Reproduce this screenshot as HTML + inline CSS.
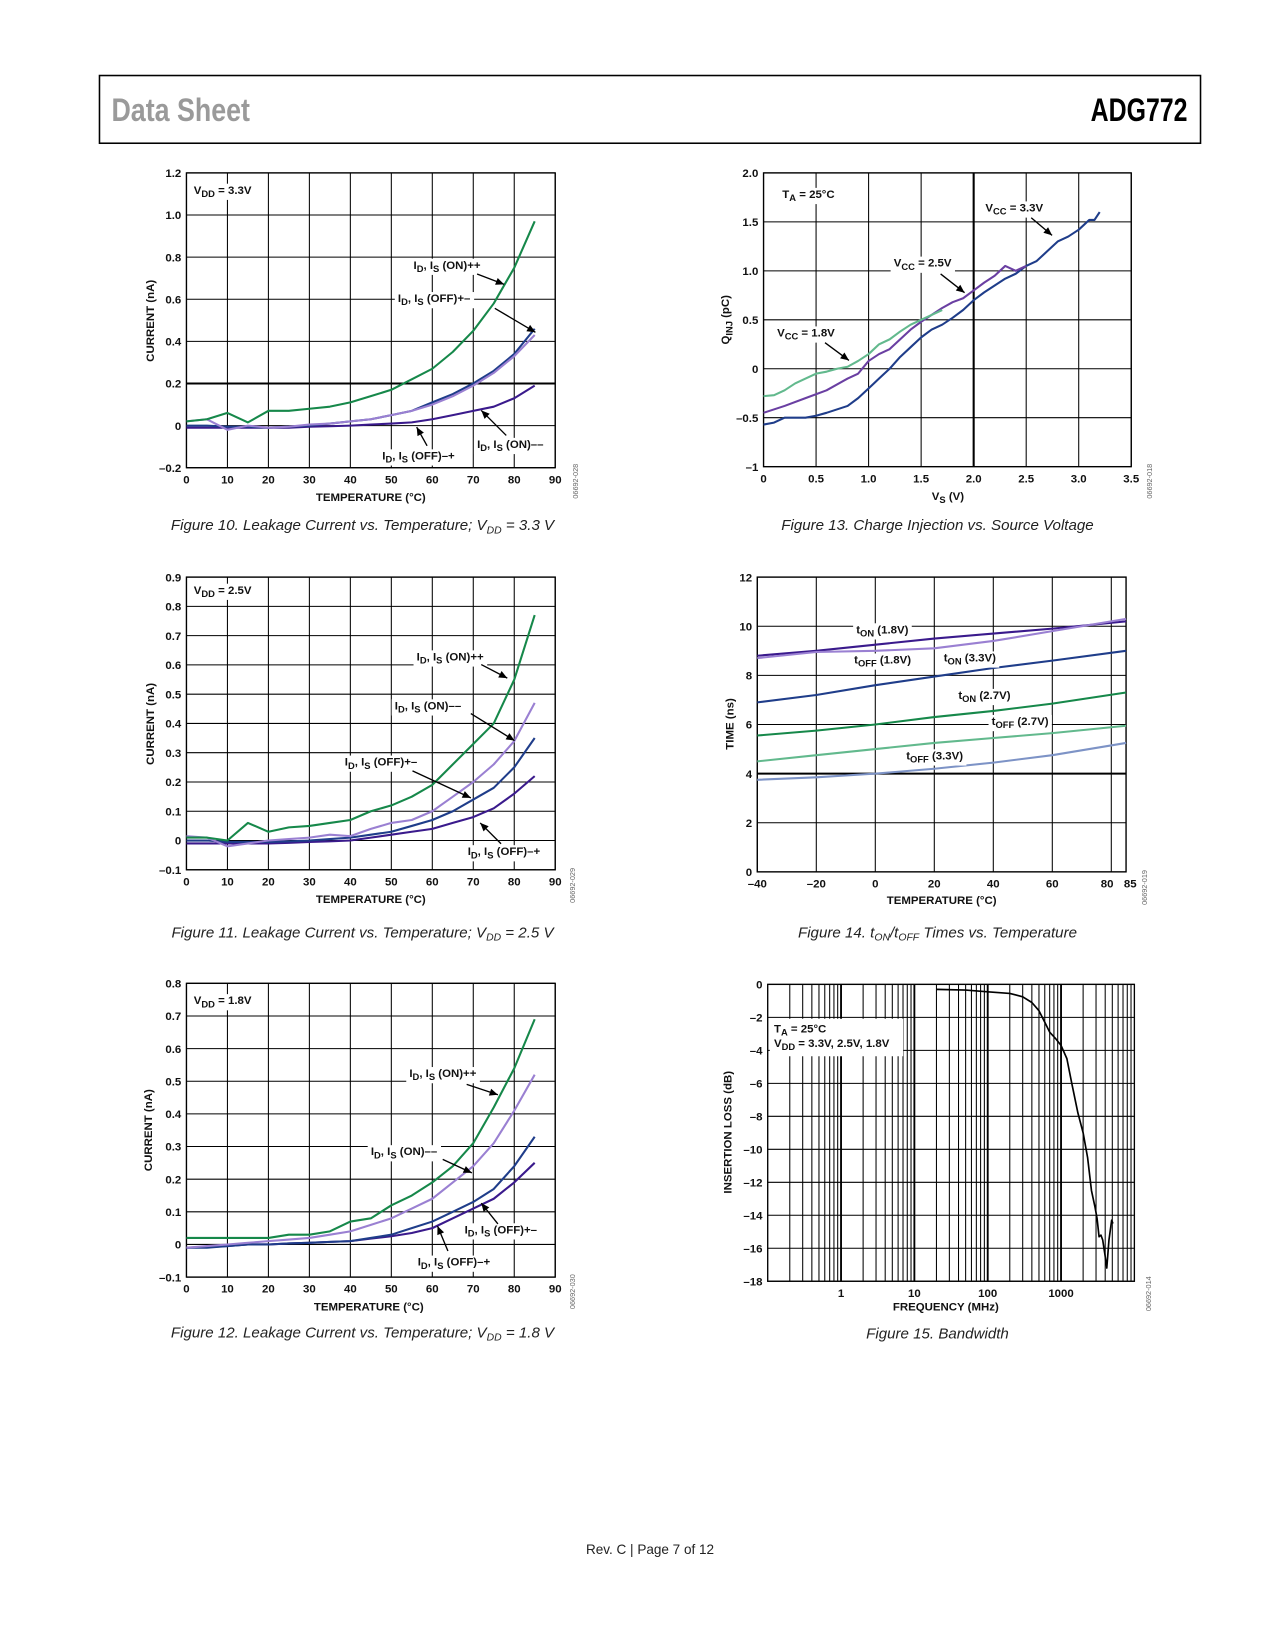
<!DOCTYPE html>
<html><head><meta charset="utf-8"><style>
html,body{margin:0;padding:0;background:#fff;}
svg{display:block;}
text{font-family:"Liberation Sans",sans-serif;}
.t{font-size:11px;font-weight:bold;fill:#111;}
.cap{font-size:14.5px;font-style:italic;fill:#222;}
.id{font-size:7px;fill:#666;}
</style></head><body>
<svg id="page" width="1275" height="1650" viewBox="0 0 1224 1584" xmlns="http://www.w3.org/2000/svg">
<rect x="95.5" y="72.5" width="1057" height="65" fill="none" stroke="#000" stroke-width="1.5"/>
<text x="107" y="116" font-size="31" fill="#9a9a9a" font-weight="bold" textLength="133" lengthAdjust="spacingAndGlyphs">Data Sheet</text>
<text x="1140" y="116" font-size="31" fill="#000" font-weight="bold" text-anchor="end" textLength="93" lengthAdjust="spacingAndGlyphs">ADG772</text>
<text x="624" y="1492" font-size="13" fill="#222" text-anchor="middle">Rev. C | Page 7 of 12</text>
<g id="charts"></g>
</svg>
<script>
// ---------- DATA ----------
const tempX=[0,5,10,15,20,25,30,35,40,45,50,55,60,65,70,75,80,85];
const f10_onpp=[0.02,0.03,0.06,0.015,0.07,0.07,0.08,0.09,0.11,0.14,0.17,0.22,0.27,0.35,0.45,0.58,0.75,0.97];
const f10_offpm=[0.0,0.0,-0.005,-0.005,-0.01,-0.005,0.0,0.01,0.02,0.03,0.05,0.07,0.11,0.15,0.2,0.26,0.34,0.46];
const f10_onmm=[0.02,0.03,-0.02,0.0,-0.01,-0.005,0.005,0.01,0.02,0.03,0.05,0.07,0.1,0.14,0.19,0.25,0.33,0.43];
const f10_offmp=[-0.01,-0.01,-0.01,-0.01,-0.01,-0.01,-0.005,-0.003,0.0,0.005,0.01,0.015,0.03,0.05,0.07,0.09,0.13,0.19];
const f11_onpp=[0.01,0.01,0.0,0.06,0.03,0.045,0.05,0.06,0.07,0.1,0.12,0.15,0.19,0.26,0.33,0.4,0.55,0.77];
const f11_onmm=[0.015,0.01,-0.02,-0.01,0.0,0.005,0.01,0.02,0.015,0.04,0.06,0.07,0.1,0.15,0.2,0.26,0.34,0.47];
const f11_offpm=[0.0,0.0,-0.005,-0.005,-0.005,-0.003,0.0,0.005,0.01,0.02,0.03,0.05,0.07,0.1,0.14,0.18,0.25,0.35];
const f11_offmp=[-0.01,-0.01,-0.01,-0.01,-0.01,-0.008,-0.005,-0.003,0.0,0.01,0.02,0.03,0.04,0.06,0.08,0.11,0.16,0.22];
const f12_onpp=[0.02,0.02,0.02,0.02,0.02,0.03,0.03,0.04,0.07,0.08,0.12,0.15,0.19,0.24,0.31,0.42,0.54,0.69];
const f12_onmm=[-0.01,-0.005,0.0,0.005,0.01,0.015,0.02,0.03,0.04,0.06,0.08,0.11,0.14,0.19,0.24,0.31,0.41,0.52];
const f12_offpm=[-0.01,-0.01,-0.005,0.0,0.0,0.003,0.005,0.008,0.01,0.02,0.03,0.05,0.07,0.1,0.13,0.17,0.24,0.33];
const f12_offmp=[-0.01,-0.008,-0.005,0.0,0.0,0.003,0.005,0.008,0.01,0.018,0.025,0.035,0.05,0.08,0.11,0.14,0.19,0.25];
const vs18=[0,0.1,0.2,0.3,0.4,0.5,0.6,0.7,0.8,0.9,1.0,1.1,1.2,1.3,1.4,1.5,1.6,1.7];
const q18=[-0.28,-0.27,-0.22,-0.15,-0.1,-0.05,-0.03,0.0,0.02,0.08,0.15,0.25,0.3,0.38,0.45,0.5,0.55,0.6];
const vs25=[0,0.2,0.4,0.6,0.8,0.9,1.0,1.1,1.2,1.3,1.4,1.5,1.6,1.7,1.8,1.9,2.0,2.1,2.2,2.3,2.4,2.5];
const q25=[-0.45,-0.38,-0.3,-0.22,-0.1,-0.05,0.08,0.15,0.2,0.3,0.4,0.48,0.55,0.62,0.68,0.72,0.8,0.88,0.95,1.05,1.0,1.05];
const vs33=[0,0.1,0.2,0.4,0.5,0.6,0.8,0.9,1.0,1.1,1.2,1.3,1.4,1.5,1.6,1.7,1.8,1.9,2.0,2.1,2.2,2.3,2.4,2.5,2.6,2.7,2.8,2.9,3.0,3.1,3.15,3.2];
const q33=[-0.57,-0.55,-0.5,-0.5,-0.48,-0.45,-0.38,-0.3,-0.2,-0.1,0.0,0.12,0.22,0.32,0.4,0.45,0.52,0.6,0.7,0.78,0.85,0.92,0.97,1.05,1.1,1.2,1.3,1.35,1.42,1.52,1.52,1.6];
const t14x=[-40,-20,0,20,40,60,85];
const ton18=[8.8,9.0,9.25,9.5,9.7,9.9,10.2];
const toff18=[8.7,8.95,9.0,9.1,9.4,9.8,10.3];
const ton33=[6.9,7.2,7.6,7.95,8.3,8.6,9.0];
const ton27=[5.55,5.75,6.0,6.3,6.55,6.85,7.3];
const toff27=[4.5,4.75,5.0,5.25,5.45,5.65,5.95];
const toff33=[3.75,3.85,4.0,4.2,4.45,4.75,5.25];
const bwF=[20,50,100,200,300,400,500,600,700,850,1000,1200,1400,1700,2000,2300,2600,2900,3100,3300,3500,3700,4000,4200,4500,4900,5100];
const bwDB=[-0.3,-0.35,-0.45,-0.55,-0.75,-1.1,-1.6,-2.3,-2.9,-3.3,-3.7,-4.5,-6,-7.8,-9,-10.5,-12.5,-13.5,-14.2,-15.3,-15.2,-15.5,-16.5,-17.2,-15.5,-14.3,-14.5];
const tempTicks=[0,10,20,30,40,50,60,70,80,90];
const f10Ticks=[-0.2,0,0.2,0.4,0.6,0.8,1.0,1.2];
const f11Ticks=[-0.1,0,0.1,0.2,0.3,0.4,0.5,0.6,0.7,0.8,0.9];
const f12Ticks=[-0.1,0,0.1,0.2,0.3,0.4,0.5,0.6,0.7,0.8];
const f13XTicks=[0,0.5,1.0,1.5,2.0,2.5,3.0,3.5];
const f13YTicks=[-1,-0.5,0,0.5,1.0,1.5,2.0];
const f14XTicks=[-40,-20,0,20,40,60,80,85];
const f14YTicks=[0,2,4,6,8,10,12];
const f15YTicks=[0,-2,-4,-6,-8,-10,-12,-14,-16,-18];
const f15XLabels=[1,10,100,1000];

// ---------- HELPERS ----------
const NS='http://www.w3.org/2000/svg';
const root=document.getElementById('charts');
function el(tag,attrs,parent,txt){const e=document.createElementNS(NS,tag);for(const k in attrs)e.setAttribute(k,attrs[k]);if(txt!==undefined)e.textContent=txt;(parent||root).appendChild(e);return e;}
function fmt(v,d){if(v===0)return '0';const s=d>0?v.toFixed(d):String(v);return s.replace('-','\u2013');}
// rich text: strings normal, {s:..} subscripts; baseline restored on next normal run
function rich(t,parts,subSize){
  let shifted=false;
  parts.forEach(p=>{
    if(typeof p==='string'){const a={};if(shifted){a.dy=-3;shifted=false;}el('tspan',a,t,p);}
    else{el('tspan',{'font-size':subSize,dy:3},t,p.s);shifted=true;}
  });
}
function mkChart(c){
  const g=el('g',{});
  
  
  const sx=v=>c.log?c.x0+(Math.log10(v)-Math.log10(c.xmin))/(Math.log10(c.xmax)-Math.log10(c.xmin))*(c.x1-c.x0):c.x0+(v-c.xmin)/(c.xmax-c.xmin)*(c.x1-c.x0);
  const sy=v=>c.y1-(v-c.ymin)/(c.ymax-c.ymin)*(c.y1-c.y0);
  c.sx=sx;c.sy=sy;c.g=g;
  el('rect',{x:c.x0,y:c.y0,width:c.x1-c.x0,height:c.y1-c.y0,fill:'#fff',stroke:'#000','stroke-width':1.3},g);
  if(c.log){
    for(let d=Math.log10(c.xmin);d<Math.log10(c.xmax);d++){for(let m=1;m<10;m++){const v=Math.pow(10,d)*m;const x=sx(v);if(x<=c.x0+0.5||x>=c.x1)continue;el('line',{x1:x,x2:x,y1:c.y0,y2:c.y1,stroke:'#000','stroke-width':m===1?1.8:1},g);}}
  } else {
    c.xticks.forEach(v=>{const x=sx(v);el('line',{x1:x,x2:x,y1:c.y0,y2:c.y1,stroke:'#000','stroke-width':v===c.boldX?2:1},g);});
  }
  c.yticks.forEach(v=>{const y=sy(v);el('line',{x1:c.x0,x2:c.x1,y1:y,y2:y,stroke:'#000','stroke-width':v===c.boldY?2:1},g);});
  c.yticks.forEach(v=>{const t=el('text',{x:c.x0-5,y:sy(v)+4,'text-anchor':'end',class:'t'},g,fmt(v,c.yd));});
  const xl=c.xlabels||c.xticks;
  xl.forEach(v=>{const t=el('text',{x:sx(v)+(c.xoff&&c.xoff[v]||0),y:c.y1+15,'text-anchor':'middle',class:'t'},g,fmt(v,c.xd));});
  return c;
}
function series(c,xs,ys,color,name,w){
  let d='';xs.forEach((x,i)=>{d+=(i?'L':'M')+c.sx(x).toFixed(1)+','+c.sy(ys[i]).toFixed(1);});
  const p=el('path',{d:d,fill:'none',stroke:color,'stroke-width':w||2,'stroke-linejoin':'round'},c.g);
  
  
}
function label(parent,x,y,parts,name,bg){
  const g=el('g',{},parent);
  
  
  const t=el('text',{x:x,y:y,class:'t'},g);
  rich(t,parts,'9');
  if(bg){const b=t.getBBox();const r=el('rect',{x:b.x-3,y:b.y-1,width:b.width+6,height:b.height+2,fill:'#fff'},g);g.insertBefore(r,t);}
}
function arrow(parent,x1,y1,x2,y2){
  const g=el('g',{},parent);
  
  
  el('line',{x1:x1,y1:y1,x2:x2,y2:y2,stroke:'#000','stroke-width':1.3},g);
  const a=Math.atan2(y2-y1,x2-x1),L=8,W=3.5;
  const bx=x2-L*Math.cos(a),by=y2-L*Math.sin(a);
  el('polygon',{points:`${x2},${y2} ${bx-W*Math.sin(a)},${by+W*Math.cos(a)} ${bx+W*Math.sin(a)},${by-W*Math.cos(a)}`,fill:'#000'},g);
}
function ytitle(c,x,yc,parts,name){
  const g=el('g',{transform:`translate(${x},${yc}) rotate(-90)`},c.g);
  
  
  const t=el('text',{x:0,y:0,'text-anchor':'middle',class:'t'},g);
  rich(t,parts,'9');
}
function xtitle(c,x,y,parts,name){
  const t=el('text',{x:x,y:y,'text-anchor':'middle',class:'t'},c.g);
  
  
  rich(t,parts,'9');
}
function caption(x,y,parts,name){
  const t=el('text',{x:x,y:y,'text-anchor':'middle',class:'cap'});
  
  
  rich(t,parts,'10');
}
function sid(x,y,s){const t=el('text',{x:0,y:0,class:'id',transform:`translate(${x},${y}) rotate(-90)`,'text-anchor':'middle'},root,s);}

const GREEN='#16884a',DPUR='#3a1a8c',NAVY='#1f3d8a',LPUR='#9a80d2',LGRN='#62b98d',LBLU='#7d93c6',PUR='#6a3fa2';
const ID=[ 'I',{s:'D'},', I',{s:'S'} ];

// ---------- FIG 10 ----------
const c10=mkChart({name:'figure-10-chart',x0:179,x1:533,y0:166,y1:449,xmin:0,xmax:90,ymin:-0.2,ymax:1.2,xticks:tempTicks,yticks:f10Ticks,yd:1,xd:0,boldY:0.2});
series(c10,tempX,f10_offmp,DPUR,'series-off-minus-plus');
series(c10,tempX,f10_offpm,NAVY,'series-off-plus-minus');
series(c10,tempX,f10_onmm,LPUR,'series-on-minus-minus');
series(c10,tempX,f10_onpp,GREEN,'series-on-plus-plus');
label(c10.g,186,186,['V',{s:'DD'},' = 3.3V'],'vdd-label',true);
label(c10.g,397,258,[...ID,' (ON)++'],'label-on-pp',true); arrow(c10.g,458,263,484,273);
label(c10.g,382,290,[...ID,' (OFF)+\u2013'],'label-off-pm',true); arrow(c10.g,475,296,514,319);
label(c10.g,367,441,[...ID,' (OFF)\u2013+'],'label-off-mp',true); arrow(c10.g,410,428,400,410);
label(c10.g,458,430,[...ID,' (ON)\u2013\u2013'],'label-on-mm',true); arrow(c10.g,486,418,462,394);
ytitle(c10,148,308,['CURRENT (nA)'],'y-axis-title');
xtitle(c10,356,481,['TEMPERATURE (\u00B0C)'],'x-axis-title');
caption(348,509,['Figure 10. Leakage Current vs. Temperature; V',{s:'DD'},' = 3.3 V'],'figure-10-caption');
sid(555,462,'06692-028');

// ---------- FIG 11 ----------
const c11=mkChart({name:'figure-11-chart',x0:179,x1:533,y0:554,y1:835,xmin:0,xmax:90,ymin:-0.1,ymax:0.9,xticks:tempTicks,yticks:f11Ticks,yd:1,xd:0});
series(c11,tempX,f11_offmp,DPUR,'series-off-minus-plus');
series(c11,tempX,f11_offpm,NAVY,'series-off-plus-minus');
series(c11,tempX,f11_onmm,LPUR,'series-on-minus-minus');
series(c11,tempX,f11_onpp,GREEN,'series-on-plus-plus');
label(c11.g,186,570,['V',{s:'DD'},' = 2.5V'],'vdd-label',true);
label(c11.g,400,634,[...ID,' (ON)++'],'label-on-pp',true); arrow(c11.g,462,638,487,651);
label(c11.g,379,681,[...ID,' (ON)\u2013\u2013'],'label-on-mm',true); arrow(c11.g,452,685,494,711);
label(c11.g,331,735,[...ID,' (OFF)+\u2013'],'label-off-pm',true); arrow(c11.g,396,740,452,766);
label(c11.g,449,821,[...ID,' (OFF)\u2013+'],'label-off-mp',true); arrow(c11.g,481,810,461,790);
ytitle(c11,148,695,['CURRENT (nA)'],'y-axis-title');
xtitle(c11,356,867,['TEMPERATURE (\u00B0C)'],'x-axis-title');
caption(348,900,['Figure 11. Leakage Current vs. Temperature; V',{s:'DD'},' = 2.5 V'],'figure-11-caption');
sid(552,850,'06692-029');

// ---------- FIG 12 ----------
const c12=mkChart({name:'figure-12-chart',x0:179,x1:533,y0:944,y1:1226,xmin:0,xmax:90,ymin:-0.1,ymax:0.8,xticks:tempTicks,yticks:f12Ticks,yd:1,xd:0});
series(c12,tempX,f12_offmp,DPUR,'series-off-minus-plus');
series(c12,tempX,f12_offpm,NAVY,'series-off-plus-minus');
series(c12,tempX,f12_onmm,LPUR,'series-on-minus-minus');
series(c12,tempX,f12_onpp,GREEN,'series-on-plus-plus');
label(c12.g,186,964,['V',{s:'DD'},' = 1.8V'],'vdd-label',true);
label(c12.g,393,1034,[...ID,' (ON)++'],'label-on-pp',true); arrow(c12.g,448,1041,478,1051);
label(c12.g,356,1109,[...ID,' (ON)\u2013\u2013'],'label-on-mm',true); arrow(c12.g,425,1113,453,1126);
label(c12.g,446,1184,[...ID,' (OFF)+\u2013'],'label-off-pm',true); arrow(c12.g,478,1175,462,1155);
label(c12.g,401,1215,[...ID,' (OFF)\u2013+'],'label-off-mp',true); arrow(c12.g,430,1201,420,1177);
ytitle(c12,146,1085,['CURRENT (nA)'],'y-axis-title');
xtitle(c12,354,1258,['TEMPERATURE (\u00B0C)'],'x-axis-title');
caption(348,1284,['Figure 12. Leakage Current vs. Temperature; V',{s:'DD'},' = 1.8 V'],'figure-12-caption');
sid(552,1240,'06692-030');

// ---------- FIG 13 ----------
const c13=mkChart({name:'figure-13-chart',x0:733,x1:1086,y0:166,y1:448,xmin:0,xmax:3.5,ymin:-1,ymax:2,xticks:f13XTicks,yticks:f13YTicks,yd:0,xd:0,boldX:2.0});
const lab13=['0','0.5','1.0','1.5','2.0','2.5','3.0','3.5'];
c13.g.querySelectorAll('text.t[text-anchor="middle"]').forEach((t,i)=>{if(lab13[i])t.textContent=lab13[i];});
const ylab13=['\u20131','\u20130.5','0','0.5','1.0','1.5','2.0'];
c13.g.querySelectorAll('text.t[text-anchor="end"]').forEach((t,i)=>{t.textContent=ylab13[i];});
series(c13,vs33,q33,NAVY,'series-vcc-3v3');
series(c13,vs25,q25,PUR,'series-vcc-2v5');
series(c13,vs18,q18,LGRN,'series-vcc-1v8');
label(c13.g,751,190,['T',{s:'A'},' = 25\u00B0C'],'ta-label',true);
label(c13.g,946,203,['V',{s:'CC'},' = 3.3V'],'label-vcc-3v3',true); arrow(c13.g,990,209,1010,226);
label(c13.g,858,256,['V',{s:'CC'},' = 2.5V'],'label-vcc-2v5',true); arrow(c13.g,903,263,926,281);
label(c13.g,746,323,['V',{s:'CC'},' = 1.8V'],'label-vcc-1v8',true); arrow(c13.g,792,329,815,346);
ytitle(c13,700,307,['Q',{s:'INJ'},' (pC)'],'y-axis-title');
xtitle(c13,910,480,['V',{s:'S'},' (V)'],'x-axis-title');
caption(900,509,['Figure 13. Charge Injection vs. Source Voltage'],'figure-13-caption');
sid(1106,462,'06692-018');

// ---------- FIG 14 ----------
const c14=mkChart({name:'figure-14-chart',x0:727,x1:1081,y0:554,y1:837,xmin:-40,xmax:85,ymin:0,ymax:12,xticks:f14XTicks,yticks:f14YTicks,yd:0,xd:0,boldY:4,xoff:{80:-4,85:4}});
series(c14,t14x,toff33,LBLU,'series-toff-3v3');
series(c14,t14x,toff27,LGRN,'series-toff-2v7');
series(c14,t14x,ton27,GREEN,'series-ton-2v7');
series(c14,t14x,ton33,NAVY,'series-ton-3v3');
series(c14,t14x,ton18,DPUR,'series-ton-1v8');
series(c14,t14x,toff18,LPUR,'series-toff-1v8');
label(c14.g,822,608,['t',{s:'ON'},' (1.8V)'],'label-ton-1v8',true);
label(c14.g,820,637,['t',{s:'OFF'},' (1.8V)'],'label-toff-1v8',true);
label(c14.g,906,635,['t',{s:'ON'},' (3.3V)'],'label-ton-3v3',true);
label(c14.g,920,671,['t',{s:'ON'},' (2.7V)'],'label-ton-2v7',true);
label(c14.g,952,696,['t',{s:'OFF'},' (2.7V)'],'label-toff-2v7',true);
label(c14.g,870,729,['t',{s:'OFF'},' (3.3V)'],'label-toff-3v3',true);
ytitle(c14,704,695,['TIME (ns)'],'y-axis-title');
xtitle(c14,904,868,['TEMPERATURE (\u00B0C)'],'x-axis-title');
caption(900,900,['Figure 14. t',{s:'ON'},'/t',{s:'OFF'},' Times vs. Temperature'],'figure-14-caption');
sid(1101,852,'06692-019');

// ---------- FIG 15 ----------
const c15=mkChart({name:'figure-15-chart',x0:737,x1:1089,y0:945,y1:1230,xmin:0.1,xmax:10000,log:true,ymin:-18,ymax:0,xticks:[],xlabels:f15XLabels,yticks:f15YTicks,yd:0,xd:0});
series(c15,bwF,bwDB,'#000','series-bandwidth',1.6);
const lg=el('g',{},c15.g);


el('rect',{x:739,y:978,width:128,height:36,fill:'#fff'},lg);
label(lg,743,991,['T',{s:'A'},' = 25\u00B0C'],'ta-label',false);
label(lg,743,1005,['V',{s:'DD'},' = 3.3V, 2.5V, 1.8V'],'vdd-label',false);
ytitle(c15,702,1087,['INSERTION LOSS (dB)'],'y-axis-title');
xtitle(c15,908,1258,['FREQUENCY (MHz)'],'x-axis-title');
caption(900,1285,['Figure 15. Bandwidth'],'figure-15-caption');
sid(1105,1242,'06692-014');
</script>
</body></html>
